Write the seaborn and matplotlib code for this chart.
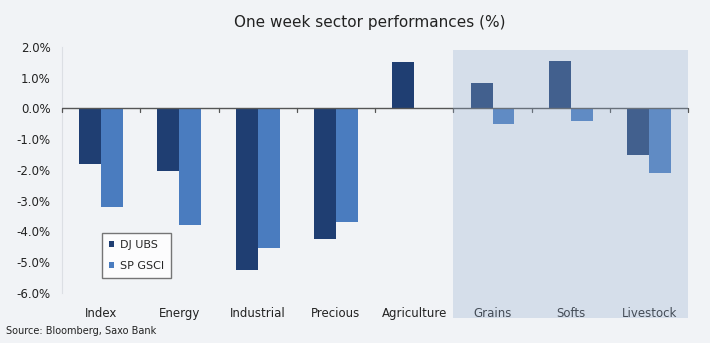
import matplotlib
matplotlib.use("Agg")
import matplotlib.pyplot as plt
import matplotlib.patches as mpatches
import seaborn as sns
import pandas as pd

categories = ["Index", "Energy", "Industrial", "Precious", "Agriculture", "Grains", "Softs", "Livestock"]
dj_ubs = [-1.8, -2.05, -5.25, -4.25, 1.52, 0.83, 1.55, -1.5]
sp_gsci = [-3.2, -3.8, -4.55, -3.7, -0.02, -0.5, -0.42, -2.1]
series_names = ["DJ UBS", "SP GSCI"]
yticks = [2, 1, 0, -1, -2, -3, -4, -5, -6]

df = pd.DataFrame({
    "Sector": categories * 2,
    "Series": [series_names[0]] * len(categories) + [series_names[1]] * len(categories),
    "Value": dj_ubs + sp_gsci,
})

sns.set_style("white")
plt.rcParams['font.family'] = ['DejaVu Sans']

bg = "#f1f3f6"
fig = plt.figure(figsize=(7.1, 3.43), dpi=100, facecolor=bg)
ax = fig.add_axes([0.0873, 0.146, 0.882, 0.717])
ax.set_facecolor(bg)

palette = {"DJ UBS": "#1f3e72", "SP GSCI": "#4a7cbf"}
sns.barplot(data=df, x="Sector", y="Value", hue="Series", order=categories,
            hue_order=series_names, palette=palette, width=0.56, saturation=1,
            linewidth=0, edgecolor="none", ax=ax, legend=True)

ax.set_ylim(-6, 2)
ax.set_xlim(-0.5, len(categories) - 0.5)
ax.set_yticks(yticks)
ax.set_yticklabels([f"{v:.1f}%" for v in yticks], fontsize=8.5, color="#222222")
ax.tick_params(axis="y", length=0, pad=8)
ax.set_xticks(range(len(categories)))
ax.set_xticklabels(categories, fontsize=8.5, color="#222222")
ax.tick_params(axis="x", length=0, pad=10)
ax.set_xlabel("")
ax.set_ylabel("")
for s in ["top", "right", "bottom"]:
    ax.spines[s].set_visible(False)
ax.spines["left"].set_color("#dcdfe4")
ax.spines["left"].set_linewidth(0.8)

# zero line with boundary tick marks
ax.axhline(0, color="#555555", lw=1.0, zorder=3)
for b in [i - 0.5 for i in range(len(categories) + 1)]:
    ax.plot([b, b], [0, -0.12], color="#555555", lw=0.9, zorder=3, clip_on=False)

leg = ax.legend(loc="lower left", bbox_to_anchor=(0.055, 0.04), fontsize=8,
                frameon=True, fancybox=False, handlelength=0.5, handleheight=0.5,
                handletextpad=0.5, labelspacing=1.0, borderpad=0.6)
leg.get_frame().set_edgecolor("#555555")
leg.get_frame().set_linewidth(1.0)
leg.get_frame().set_facecolor("white")

# shaded region over last three categories
rect = mpatches.Rectangle((453 / 710, 1 - 318 / 343), (688 - 453) / 710, (318 - 50) / 343,
                          transform=fig.transFigure, facecolor="#95afd1", alpha=0.3,
                          edgecolor="none", zorder=10)
fig.patches.append(rect)

fig.text(370 / 710, 1 - 22 / 343, "One week sector performances (%)", ha="center", va="center",
         fontsize=11, color="#222222")
fig.text(6 / 710, 1 - 331 / 343, "Source: Bloomberg, Saxo Bank", ha="left", va="center",
         fontsize=7, color="#222222")

fig.savefig("out.png", dpi=100, facecolor=bg)
